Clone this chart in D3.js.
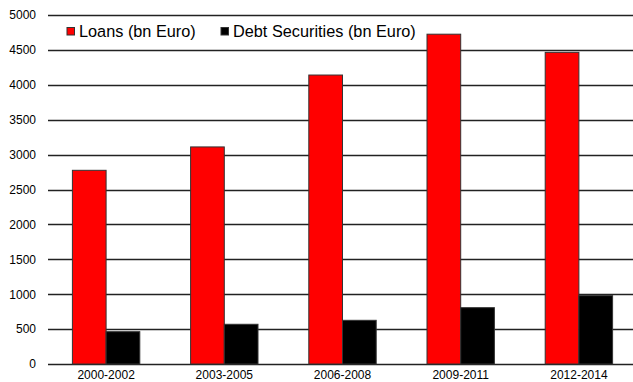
<!DOCTYPE html>
<html>
<head>
<meta charset="utf-8">
<script src="https://cdn.jsdelivr.net/npm/d3@7"></script>
<style>
  body { margin: 0; background: #fff; }
  svg { display: block; font-family: "Liberation Sans", Arial, sans-serif; }
</style>
</head>
<body>
<div id="chart"></div>
<script>
// Daten
const periods = ['2000-2002', '2003-2005', '2006-2008', '2009-2011', '2012-2014'];
const loans = [2775, 3110, 4140, 4725, 4465];
const debtSecurities = [463, 569, 626, 807, 979];
const yTicks = [0, 500, 1000, 1500, 2000, 2500, 3000, 3500, 4000, 4500, 5000];

const width = 633, height = 382;

const svg = d3.select('#chart').append('svg')
  .attr('width', width)
  .attr('height', height);

const x = d3.scaleBand()
  .domain(periods)
  .range([47, 638]);

const series = [
  { key: 'Loans (bn Euro)', values: loans, color: '#ff0000' },
  { key: 'Debt Securities (bn Euro)', values: debtSecurities, color: '#000000' }
];

const xInner = d3.scaleBand()
  .domain(series.map(s => s.key))
  .range([-33.7, 33.7]);

const y = d3.scaleLinear()
  .domain([0, 5000])
  .range([364, 15]);

// Gitterlinien
svg.append('g')
  .selectAll('line')
  .data(yTicks)
  .enter().append('line')
  .attr('x1', 48)
  .attr('x2', width)
  .attr('y1', d => Math.round(y(d)) + 0.5)
  .attr('y2', d => Math.round(y(d)) + 0.5)
  .attr('stroke', '#222')
  .attr('stroke-width', 1.3);

// y-Achse Beschriftung
const yAxis = d3.axisLeft(y).tickValues(yTicks).tickFormat(d3.format('d')).tickSize(0).tickPadding(0);
const yg = svg.append('g')
  .attr('transform', 'translate(36,0)')
  .call(yAxis);
yg.select('.domain').remove();
yg.selectAll('text')
  .attr('font-size', 12)
  .attr('font-family', '"Liberation Sans", Arial, sans-serif')
  .attr('fill', '#000');

// Balken
const groups = svg.append('g')
  .selectAll('g')
  .data(periods)
  .enter().append('g')
  .attr('transform', d => `translate(${x(d) + x.bandwidth() / 2},0)`);

groups.selectAll('rect')
  .data((d, i) => series.map(s => ({ key: s.key, value: s.values[i], color: s.color })))
  .enter().append('rect')
  .attr('x', d => xInner(d.key))
  .attr('width', xInner.bandwidth())
  .attr('y', d => y(d.value))
  .attr('height', d => y(0) - y(d.value))
  .attr('fill', d => d.color)
  .attr('stroke', '#333')
  .attr('stroke-width', 1);

// x-Achse Beschriftung
const xAxis = d3.axisBottom(x).tickSize(0).tickPadding(0);
const xg = svg.append('g')
  .attr('transform', 'translate(0,370.5)')
  .call(xAxis);
xg.select('.domain').remove();
xg.selectAll('text')
  .attr('font-size', 12)
  .attr('font-family', '"Liberation Sans", Arial, sans-serif')
  .attr('fill', '#000')
  .attr('dy', '0.71em');

// Legende
const legendX = [67, 221];
const legend = svg.append('g')
  .selectAll('g')
  .data(series)
  .enter().append('g')
  .attr('transform', (d, i) => `translate(${legendX[i]},27.5)`);

legend.append('rect')
  .attr('width', 7.5)
  .attr('height', 7.5)
  .attr('fill', d => d.color)
  .attr('stroke', '#333')
  .attr('stroke-width', 1);

legend.append('text')
  .attr('x', 12)
  .attr('y', 3.75)
  .attr('dy', '0.35em')
  .attr('font-size', 16.3)
  .attr('fill', '#000')
  .text(d => d.key);
</script>
</body>
</html>
